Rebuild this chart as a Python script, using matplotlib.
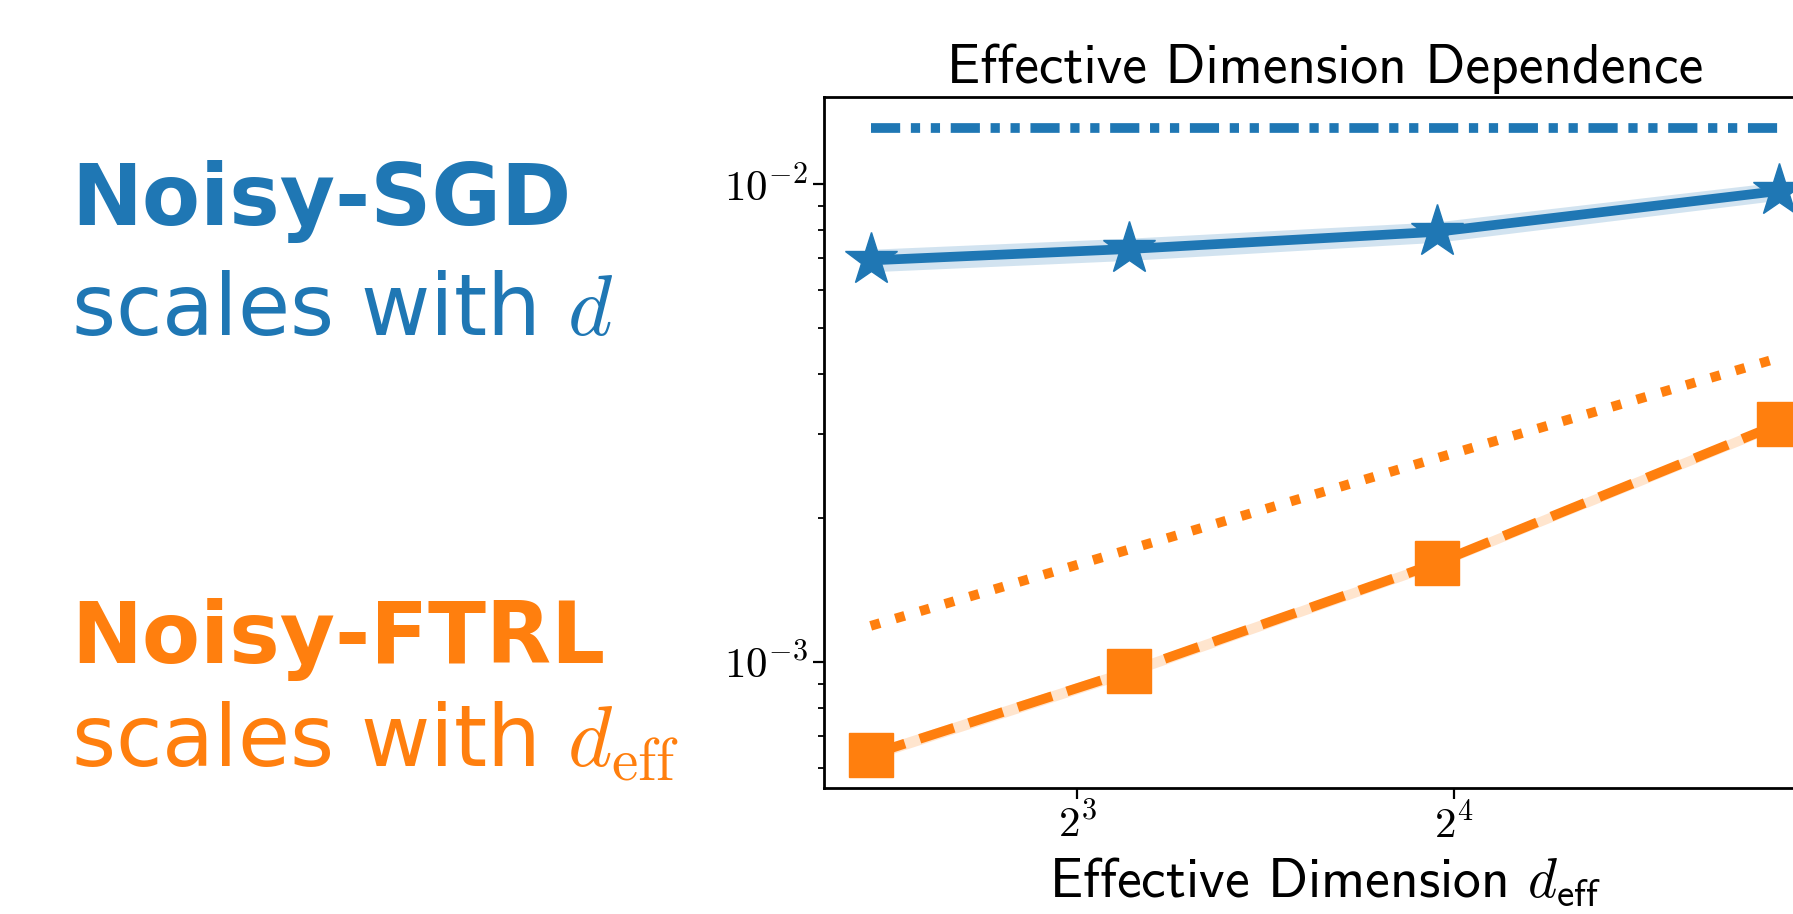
import matplotlib
matplotlib.use('Agg')
import matplotlib.pyplot as plt
import matplotlib.ticker as mticker
import numpy as np

plt.rcParams['mathtext.fontset'] = 'cm'

# data
d_eff = [5.47, 8.80, 15.5, 29.1]
sgd_err = [6.92e-3, 7.31e-3, 7.94e-3, 9.67e-3]
sgd_lo = [6.55e-3, 6.92e-3, 7.55e-3, 9.25e-3]
sgd_hi = [7.30e-3, 7.70e-3, 8.33e-3, 10.1e-3]
sgd_bound = [1.31e-2, 1.31e-2, 1.31e-2, 1.31e-2]
ftrl_err = [6.40e-4, 9.56e-4, 1.61e-3, 3.15e-3]
ftrl_lo = [6.22e-4, 9.30e-4, 1.57e-3, 3.07e-3]
ftrl_hi = [6.58e-4, 9.82e-4, 1.65e-3, 3.23e-3]
ftrl_bound = [1.19e-3, 1.72e-3, 2.67e-3, 4.33e-3]

xticks = [8, 16]
xtick_labels = [r'$2^3$', r'$2^4$']
yticks = [1e-3, 1e-2]
ytick_labels = [r'$10^{-3}$', r'$10^{-2}$']

blue = '#1f77b4'
orange = '#ff7f0e'

fig = plt.figure(figsize=(17.93, 9.14), dpi=100)
W, H = 1793.0, 914.0
ax = fig.add_axes([824 / W, 126 / H, (1826 - 824) / W, (788 - 97) / H])

lw = 7
ax.fill_between(d_eff, sgd_lo, sgd_hi, color=blue, alpha=0.2, lw=0)
ax.plot(d_eff, sgd_err, color=blue, lw=lw, marker='*', ms=40)
l, = ax.plot(d_eff, sgd_bound, color=blue, lw=lw)
l.set_dashes([3.0, 1.1, 0.95, 1.1, 0.95, 1.1])

ax.fill_between(d_eff, ftrl_lo, ftrl_hi, color=orange, alpha=0.2, lw=0)
ax.plot(d_eff, ftrl_err, color=orange, lw=lw, ls='--', marker='s', ms=31)
ax.plot(d_eff, ftrl_bound, color=orange, lw=lw, ls=':')

ax.set_xscale('log', base=2)
ax.set_yscale('log')
ax.set_xlim(5.02, 31.7)
ax.set_ylim(5.45e-4, 1.52e-2)
ax.set_xticks(xticks)
ax.set_xticklabels(xtick_labels)
ax.xaxis.set_minor_locator(mticker.NullLocator())
ax.set_yticks(yticks)
ax.set_yticklabels(ytick_labels)
ax.yaxis.set_minor_formatter(mticker.NullFormatter())

ax.tick_params(which='major', labelsize=31, length=8, width=1.6)
ax.tick_params(which='minor', length=4.5, width=1.3)
for s in ax.spines.values():
    s.set_linewidth(2)

ax.set_title('Effective Dimension Dependence', fontfamily='cmss10', fontsize=40, pad=10)
ax.set_xlabel(r'Effective Dimension $d_{\mathsf{eff}}$', fontfamily='cmss10', fontsize=40, labelpad=6)

fig.text(71 / W, 1 - 225 / H, 'Noisy-SGD', color=blue, fontsize=61, fontweight='bold', va='baseline')
fig.text(71 / W, 1 - 335 / H, r'scales with $d$', color=blue, fontsize=61, va='baseline')
fig.text(71 / W, 1 - 663 / H, 'Noisy-FTRL', color=orange, fontsize=61, fontweight='bold', va='baseline')
fig.text(71 / W, 1 - 766 / H, r'scales with $d_{\mathrm{eff}}$', color=orange, fontsize=61, va='baseline')

plt.savefig('out.png', dpi=100)
